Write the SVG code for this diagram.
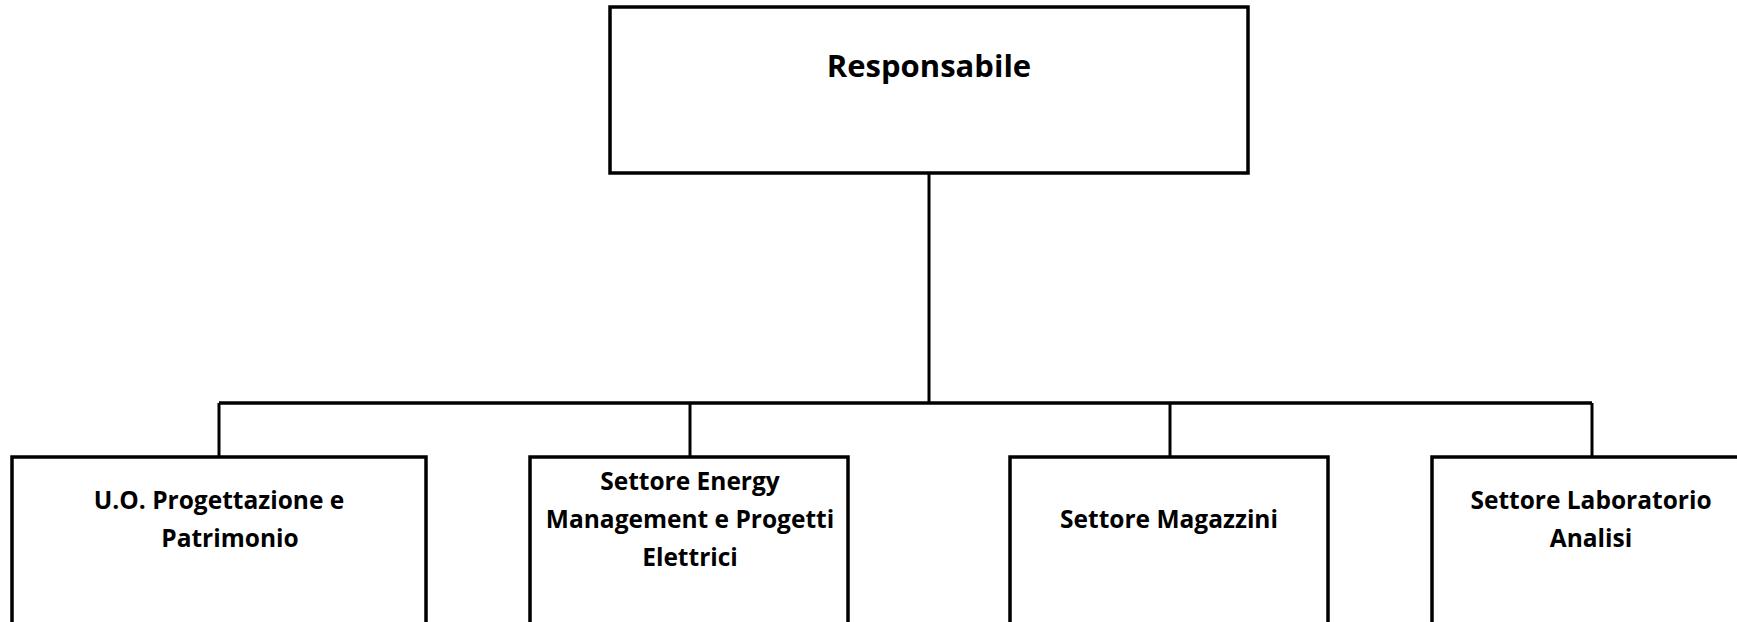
<svg xmlns="http://www.w3.org/2000/svg" width="1737" height="622" viewBox="0 0 1737 622">
<style>
.box{fill:#fff;stroke:#000;stroke-width:3.5}
.ln{fill:none;stroke:#000;stroke-width:3}
.bus{fill:none;stroke:#000;stroke-width:3.5}
text{font-family:"Open Sans","Noto Sans",sans-serif;font-weight:bold;fill:#000;text-anchor:middle}
.t1{font-size:31px}
.t2{font-size:24.5px}
</style>
<rect width="1737" height="622" fill="#fff"/>
<g id="connectors">
<line class="ln" x1="929" y1="173" x2="929" y2="403"/>
<line class="bus" x1="219" y1="403" x2="1592" y2="403"/>
<line class="ln" x1="219" y1="403" x2="219" y2="457"/>
<line class="ln" x1="690" y1="403" x2="690" y2="457"/>
<line class="ln" x1="1170" y1="403" x2="1170" y2="457"/>
<line class="ln" x1="1592" y1="403" x2="1592" y2="457"/>
</g>
<g id="responsabile">
<rect class="box" x="610" y="7" width="638" height="166"/>
<text class="t1" x="929" y="77">Responsabile</text>
</g>
<g id="uo-progettazione">
<rect class="box" x="12" y="457" width="414" height="190"/>
<text class="t2" x="219" y="509">U.O. Progettazione e</text>
<text class="t2" x="230" y="547">Patrimonio</text>
</g>
<g id="settore-energy">
<rect class="box" x="530" y="457" width="318" height="190"/>
<text class="t2" x="690" y="490">Settore Energy</text>
<text class="t2" x="690" y="528">Management e Progetti</text>
<text class="t2" x="690" y="566">Elettrici</text>
</g>
<g id="settore-magazzini">
<rect class="box" x="1010" y="457" width="318" height="190"/>
<text class="t2" x="1169" y="528">Settore Magazzini</text>
</g>
<g id="settore-laboratorio">
<rect class="box" x="1432" y="457" width="320" height="190"/>
<text class="t2" x="1591" y="509">Settore Laboratorio</text>
<text class="t2" x="1591" y="547">Analisi</text>
</g>
</svg>
